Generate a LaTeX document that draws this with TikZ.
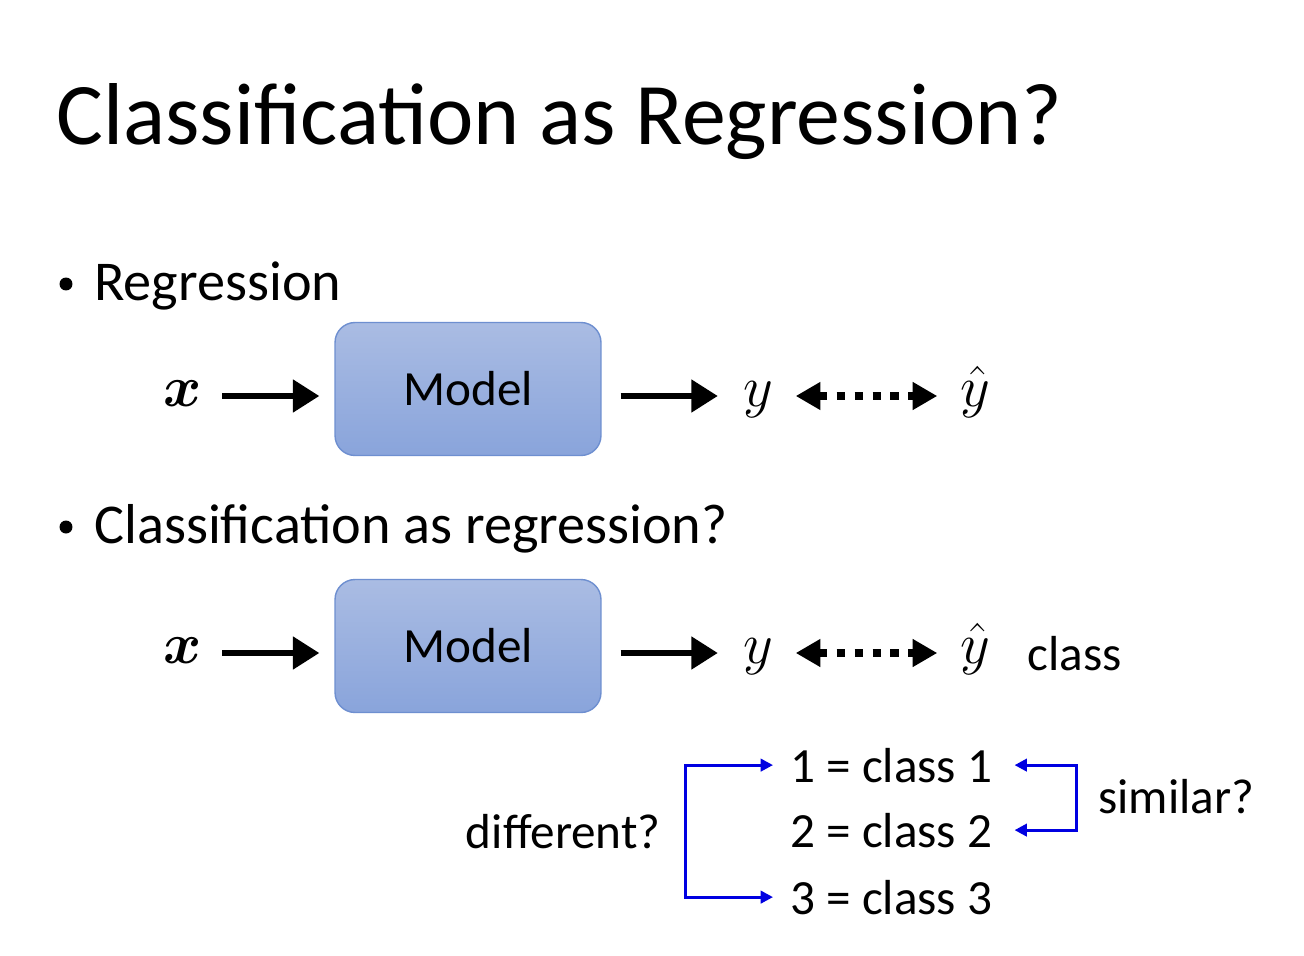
\RequirePackage{fix-cm}
\documentclass[tikz,border=0pt]{standalone}
\usepackage{amsmath}
\usepackage{fontspec}
\setmainfont{Carlito}
\usetikzlibrary{arrows.meta}
\tikzset{
modelbox/.style={
	  draw=modelborder, line width=0.8pt, rounded corners=0.4cm,
	    top color=modeltop, bottom color=modelbot,
    minimum width=5.32cm, minimum height=2.66cm,
    font=\fontsize{28}{34}\selectfont},
flow/.style={line width=3.3pt, -{Triangle[length=15pt,width=18pt]}},
match/.style={line width=4.8pt, dash pattern=on 4.9pt off 5.3pt,
    {Triangle[length=14pt,width=15pt]}-{Triangle[length=14pt,width=15pt]}},
link/.style={line width=1.7pt, draw=linkblue,
    {Triangle[length=7pt,width=7pt]}-{Triangle[length=7pt,width=7pt]}},
var/.style={inner sep=0pt, text height=16pt, text depth=4pt,
    font=\fontsize{33}{40}\selectfont},
item/.style={inner sep=0pt, anchor=base west, font=\fontsize{32}{38}\selectfont},
dot/.style={circle, fill, inner sep=0pt, minimum size=0.26cm},
txt/.style={inner sep=0pt, font=\fontsize{28}{34}\selectfont}
}
\definecolor{modeltop}{RGB}{170,188,227}
\definecolor{modelbot}{RGB}{137,164,219}
\definecolor{modelborder}{RGB}{110,143,208}
\definecolor{linkblue}{RGB}{0,0,225}

\begin{document}
\begin{tikzpicture}[x=0.02cm, y=-0.02cm]
	\useasboundingbox[fill=white] (0,0) rectangle (1304,956);
	\node[inner sep=0pt, anchor=base west, font=\fontsize{50}{60}\selectfont] (title) at (56,145) {Classification as Regression?};
	% regression
	\node[dot] (b1) at (66,284) {};
	\node[item] (reg) at (94,300) {Regression};
	\node[modelbox] (m1) at (468,389) {Model};
	\node[var] (x1) at (183,396) {$\boldsymbol{x}$};
	\node[var] (y1) at (758,396) {$y$};
	\node[var] (yh1) at (975,396) {$\hat{y}$};
	\draw[flow, shorten <=0.4cm, shorten >=0.3cm] (x1) -- (x1 -| m1.west);
	\draw[flow, shorten <=0.38cm, shorten >=0.5cm] (m1.east |- y1) -- (y1);
	\draw[match, shorten <=0.45cm, shorten >=0.45cm] (y1) -- (yh1);
	% classification
	\node[dot] (b2) at (66,527) {};
	\node[item] (cls) at (94,543) {Classification as regression?};
	\node[modelbox] (m2) at (468,646) {Model};
	\node[var] (x2) at (183,653) {$\boldsymbol{x}$};
	\node[var] (y2) at (758,653) {$y$};
	\node[var] (yh2) at (975,653) {$\hat{y}$};
	\node[txt, anchor=base west] (lbl) at (1027,670) {class};
	\draw[flow, shorten <=0.4cm, shorten >=0.3cm] (x2) -- (x2 -| m2.west);
	\draw[flow, shorten <=0.38cm, shorten >=0.5cm] (m2.east |- y2) -- (y2);
	\draw[match, shorten <=0.45cm, shorten >=0.45cm] (y2) -- (yh2);
	% classes
	\node[txt, anchor=base west] (c1) at (790,782) {1 = class 1};
	\node[txt, anchor=base west] (c2) at (790,847) {2 = class 2};
	\node[txt, anchor=base west] (c3) at (790,914) {3 = class 3};
	\node[txt, anchor=east] (diff) at (661,832) {different?};
	\node[txt, anchor=west] (sim) at (1098,797) {similar?};
	\coordinate (lb) at (685,833);
	\draw[link, {}-{Triangle[length=7pt,width=7pt]}] (lb) |- ([xshift=-0.34cm]c1.west);
	\draw[link, {}-{Triangle[length=7pt,width=7pt]}] (lb) |- ([xshift=-0.34cm]c3.west);
	\draw[link] ([xshift=0.44cm]c1.east) -- ++(62,0) |- ([xshift=0.44cm]c2.east);
\end{tikzpicture}
\end{document}
